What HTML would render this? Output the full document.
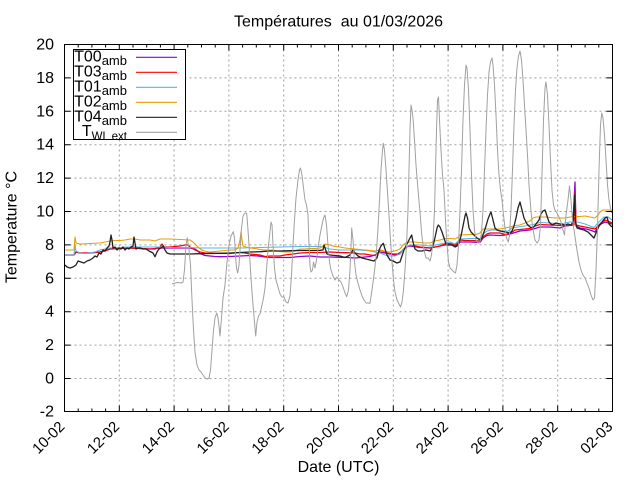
<!DOCTYPE html>
<html>
<head>
<meta charset="utf-8">
<style>
html,body{margin:0;padding:0;background:#fff;}
svg{display:block;}
text{font-family:"Liberation Sans",Arial,sans-serif;fill:#000;}
</style>
</head>
<body>
<svg width="640" height="480" viewBox="0 0 640 480" xmlns="http://www.w3.org/2000/svg">
<rect x="0" y="0" width="640" height="480" fill="#fff"/>

<!-- title -->
<text x="338.5" y="26.5" font-size="16" text-anchor="middle" style="white-space:pre">Températures  au 01/03/2026</text>

<!-- grid -->
<g stroke="#a0a0a0" stroke-width="1" stroke-dasharray="2,3" fill="none">
<line x1="119.3" y1="44.5" x2="119.3" y2="411.5"/>
<line x1="174.1" y1="44.5" x2="174.1" y2="411.5"/>
<line x1="228.9" y1="44.5" x2="228.9" y2="411.5"/>
<line x1="283.7" y1="44.5" x2="283.7" y2="411.5"/>
<line x1="338.5" y1="44.5" x2="338.5" y2="411.5"/>
<line x1="393.3" y1="44.5" x2="393.3" y2="411.5"/>
<line x1="448.1" y1="44.5" x2="448.1" y2="411.5"/>
<line x1="502.9" y1="44.5" x2="502.9" y2="411.5"/>
<line x1="557.7" y1="44.5" x2="557.7" y2="411.5"/>
<line x1="64.5" y1="77.9" x2="612.5" y2="77.9"/>
<line x1="64.5" y1="111.3" x2="612.5" y2="111.3"/>
<line x1="64.5" y1="144.7" x2="612.5" y2="144.7"/>
<line x1="64.5" y1="178.1" x2="612.5" y2="178.1"/>
<line x1="64.5" y1="211.5" x2="612.5" y2="211.5"/>
<line x1="64.5" y1="244.9" x2="612.5" y2="244.9"/>
<line x1="64.5" y1="278.3" x2="612.5" y2="278.3"/>
<line x1="64.5" y1="311.7" x2="612.5" y2="311.7"/>
<line x1="64.5" y1="345.1" x2="612.5" y2="345.1"/>
<line x1="64.5" y1="378.5" x2="612.5" y2="378.5"/>
</g>

<!-- data -->
<g fill="none" stroke-linejoin="round">
<!-- T00 purple -->
<polyline stroke="#9400d3" stroke-width="1.3" points="65,255 74,255 76,252 80,253 90,253 100,252 110,249 120,248.5 130,248 140,248.5 150,249 160,248 170,248 180,248 190,248 195,249 198,251 200,253.5 205,255.5 210,256 215,256.5 220,256.7 230,256.5 240,256 250,255.5 258,256 265,257 270,257.5 280,257.5 290,257.5 295,257 300,256.5 310,256 315,256.5 320,257 330,257 340,257.3 346,257.3 355,258 360,257.5 365,257 370,256.5 375,255 380,252 385,253 390,254 395,255 400,254 403,250 406,247 410,246 420,247.5 430,248 440,246 445,245 450,244.5 455,246 458,244 460,242 470,242 480,242.5 483,238 487,235.5 490,235 500,235.5 505,235 510,234 520,231 530,230 540,227 550,227 560,228 565,226 573,225 575,182 576,226 580,228 586,229 590,230 595,232 598,227 601,224 605,222 612,224"/>
<!-- T03 red -->
<polyline stroke="#ff0000" stroke-width="1.3" points="65,255 74,255 76,252 80,253 90,253 100,252 105,251 110,249 120,248.5 125,247.5 130,248 140,248.5 150,249 155,249 160,247 162,244 164,247 170,247 180,246 185,245 188,245 190,247 195,250 200,252 205,253 215,253.3 230,253.5 240,252.5 245,253 250,254 260,255 265,256.5 270,256 280,256 285,255 293,254 300,253 310,252.5 320,252.5 330,252 340,252.5 346,252.7 355,253 360,254 365,254 370,255 375,255.5 378,253 380,250 383,251 387,253 393,254 398,254 402,251 405,248 410,245 415,246 420,247 430,248 435,247 440,246 445,244 450,243.5 455,245 458,243 460,240 465,240.5 473,240.5 480,241 483,237 487,234 490,233 500,233 505,234.5 510,233.5 515,230 520,229.5 525,229 530,228.5 535,226 540,224.5 550,225 560,225.5 565,225.5 570,225.5 574,225 575,193 576,225 580,226 585,227 590,228 595,229 598,226 601,223 605,220 610,222 612,223"/>
<!-- T01 blue -->
<polyline stroke="#56b4e9" stroke-width="1.1" points="65,255 74,255 75,245 76,251 80,253 85,253.5 90,253 95,252 100,250 105,249 110,248 120,247.5 130,247 140,247 150,247 160,247 170,247.5 180,247.5 190,247.5 200,248 220,248 240,248 260,247.5 280,247 300,246.5 320,246.5 323,247 330,249 340,250 350,250 360,250 370,251 375,252 380,253 385,255 390,256 395,256 400,254 403,250 406,247 410,245 420,245 430,246 440,244 450,242 455,244 458,241 460,239 470,238.5 480,238.5 483,234 487,231 492,230 497,230 502,231 508,231 512,228 518,227 525,226 533,224.5 540,222.5 550,223 560,224 570,222 578,222 585,224 590,226 594,227.5 597,224 600,221 604,217 608,217 612,220"/>
<!-- T02 orange -->
<polyline stroke="#e69f00" stroke-width="1.1" points="65,250 74,250 75,237 76,243 80,244 90,243.5 100,243 105,242 110,241 115,240.5 120,240.5 125,240 130,239 135,239 140,240 145,240 150,240 155,241 160,239 170,239 180,239.5 190,240 193,242 196,245 199,248 202,250 206,251.5 210,252 215,251.5 220,251 225,250.5 230,250 235,250 238,248 240,240 241,232 242,240 243,246 246,247 250,248 255,248.5 260,249.5 265,250 270,250 275,250.5 280,251.5 285,252 290,252 295,251 300,249 305,249 310,248.5 315,248.5 320,248 323,246 325,244 330,245 335,246.5 340,247 345,248 350,248.5 360,249.5 370,250.5 375,251 380,250 385,251.5 390,252 395,251 400,249 403,245 406,243 410,242 415,242 420,242.5 425,243 430,243 435,241 440,240 445,238.5 450,238.5 455,239 458,237.5 460,235 470,234.5 476,234.5 480,233 483,229 490,229 495,229 500,229 505,228 510,227 515,225.5 520,225 525,223 530,221 533,218 536,217 545,217 556,218 565,218 573,216.5 580,216.5 585,216 590,217 595,218 598,215 600,212 603,210 610,210 612,213"/>
<!-- T04 black -->
<polyline stroke="#222" stroke-width="1.3" points="65,265 67,267 70,268 73,267 76,265 78,261 81,262 84,263 87,261 90,260 93,258 95,256 97,257 99,253 101,254 103,250 105,251 107,248 109,246 110,242 111,235 112,240 113,248 115,247 117,250 119,248 121,249 123,247 125,250 127,248 129,249 131,247 133,246 134,237 135,243 136,249 138,248 140,248 143,249 146,249 149,251 151,252 153,253 155,256.7 157,252 159,249 161,248 163.3,246 165,250 167,253 170,254 173,254 180,254 190,254 200,253.7 210,253.5 220,253.3 230,253 240,252.5 250,252 260,251.7 270,251 280,251 290,250.7 300,250.5 310,250.5 320,250.3 323,250 324,245 325,248 327,254 330,255 335,255.5 340,256 345,257.5 348,256 350,255 353,250 355,253 358,256 362,258 366,259 370,260 374,261 377,258 379,250 381,246 383.3,243.3 385,249 387,255 390,260 393,261 397,263 400,262 402,256 404,250 406,246 408,242 410,238 411.7,235 413,242 415,249 418,251 422,251 426,250 430,251 432,248 434,242 436,233 437,228 438.3,225 440,227 442,232 444,238 446,244 448,245 452,245 455,247 457,246 459,243 461,236 463,226 465,216 466,213 467.5,218 469,228 471,232 474,235 477,238 480,240 482,238 484,232 486,226 488,219 490,214 491,212 493,220 495,228 497,230 500,231 505,232 510,233 512,231 514,226 516,218 518,208 520,202 522,210 524,218 527,224 530,227 533,228 536,224 539,220 541,214 543,211 545,210 547,216 549,222 552,225 556,223 560,224 565,225 568,224 571,225 573,222 574.5,195 575.5,222 577,228 580,229 584,230 588,232 592,236 594,238 596,233 599,226 602,222 605,218 607,217 609,224 612,227"/>
<!-- T WL ext gray -->
<polyline stroke="#a0a0a0" stroke-width="1" points="172,284 175,283 178,282.5 181,283 183,282 184.5,270 186,245 187.3,237.7 189,250 190.5,265 192,300 193.5,330 195,352 197,365 199,370 201,372 203,375 205,378 207,379 209,378 210.5,370 212,350 213.5,330 215,318 216.7,313 218,318 219,326 220,336 221.5,318 223,298 225,285 227,262 229,245 231,236 233.3,231.7 234.5,238 235.5,255 236.5,268 237.7,273 239,265 240,250 241.5,228 243,216 245,213 246.7,213.3 248,230 249,245 250,262 251.5,285 253,305 254.5,322 255.7,336 257,322 258.5,316 260,314 262,305 263.5,298 265,288 266.5,270 268,250 269.5,236 271,222 272,225 273,245 274.5,268 276,280 278,287 280,294 282,297 284,297 286,302 288,303 290,296 291.5,275 293,245 294.5,220 296,198 298,180 299.5,170 300.5,168 302,175 303.5,188 305,200 306.5,205 308,215 309,245 310,266 311,272 312.5,270 313.5,262 315,268 316.5,260 318,248 320,235 322,225 323.5,218 325,215 326.5,225 328,245 329.5,262 331,270 333,276 335,280 337,277 339,280 341,282 343,287 345,293 346.7,296.7 348.5,290 350,270 351,248 351.7,228 353,240 354.5,262 356,275 358,283 360,290 362,296 364,300 366,303 368,303 370,303.3 372,290 374,275 376,258 378,228 379.5,200 381,170 382.5,150 383.3,143.3 384.5,150 386,170 387.5,192 389,215 390.5,240 392,262 393.5,280 395,292 397,300 399,304 400.5,307 402,302 403.5,290 405,270 406.5,245 408,210 409,170 410,130 411,105 412,110 413,118 414.5,140 416,165 418,190 420,212 421.5,232 423,245 424.5,252 426,258 428,258 430,261 431.5,255 433,240 434.5,210 435.5,170 436.5,130 437.5,100 438.5,97 439.5,120 441,150 442.5,175 444,190 445.5,220 447,245 448.5,262 450,268 452,270 454,272 455.5,273 457,265 458.5,245 460,210 461.5,170 463,120 464.5,85 466,65 467,68 468.5,90 470,130 471.5,175 473,210 474.5,230 476,240 478,243 480,242 481.5,232 483,210 484.5,170 486,130 487.5,95 489,72 490.5,62 492,58 493,65 494.5,85 496,115 497.5,150 499,175 500.5,190 502,200 503.5,215 505,228 506.5,238 508.3,242 509.5,235 511,210 512.5,170 514,125 515.5,90 517,68 518.5,56 520,51 521.5,60 523,80 524.5,105 526,130 527.5,155 529,185 530.5,205 532,222 533.5,232 535,240 537,243 539,240 540.5,225 542,175 543.5,120 545,88 546,82 547.5,95 549,125 550.5,160 552,190 553.5,205 555,210 557,213 559,217 561,222 563,230 564.5,235 566,215 568,200 569.5,186 571,200 572.5,220 574,230 575.5,240 577,250 579,262 581,270 583,275 585,278 587,283 589,288 591,295 593,300 594.5,298 596,270 597.5,230 599,170 600.5,125 601.7,113 603,118 604.5,135 606,160 607.5,185 609,200 610.5,208 612,212"/>
</g>

<!-- border -->
<rect x="64.5" y="44.5" width="548" height="367" fill="none" stroke="#000" stroke-width="1"/>

<!-- ticks -->
<g stroke="#000" stroke-width="1">
<path d="M64.5 44.5h6M64.5 77.9h6M64.5 111.3h6M64.5 144.7h6M64.5 178.1h6M64.5 211.5h6M64.5 244.9h6M64.5 278.3h6M64.5 311.7h6M64.5 345.1h6M64.5 378.5h6M64.5 411.5h6"/>
<path d="M612.5 44.5h-6M612.5 77.9h-6M612.5 111.3h-6M612.5 144.7h-6M612.5 178.1h-6M612.5 211.5h-6M612.5 244.9h-6M612.5 278.3h-6M612.5 311.7h-6M612.5 345.1h-6M612.5 378.5h-6M612.5 411.5h-6"/>
<path d="M119.3 411.5v-6M174.1 411.5v-6M228.9 411.5v-6M283.7 411.5v-6M338.5 411.5v-6M393.3 411.5v-6M448.1 411.5v-6M502.9 411.5v-6M557.7 411.5v-6"/>
<path d="M119.3 44.5v6M174.1 44.5v6M228.9 44.5v6M283.7 44.5v6M338.5 44.5v6M393.3 44.5v6M448.1 44.5v6M502.9 44.5v6M557.7 44.5v6"/>
<path d="M78.2 411.5v-3M91.9 411.5v-3M105.6 411.5v-3M133 411.5v-3M146.7 411.5v-3M160.4 411.5v-3M187.8 411.5v-3M201.5 411.5v-3M215.2 411.5v-3M242.6 411.5v-3M256.3 411.5v-3M270 411.5v-3M297.4 411.5v-3M311.1 411.5v-3M324.8 411.5v-3M352.2 411.5v-3M365.9 411.5v-3M379.6 411.5v-3M407 411.5v-3M420.7 411.5v-3M434.4 411.5v-3M461.8 411.5v-3M475.5 411.5v-3M489.2 411.5v-3M516.6 411.5v-3M530.3 411.5v-3M544 411.5v-3M571.4 411.5v-3M585.1 411.5v-3M598.8 411.5v-3"/>
<path d="M78.2 44.5v3M91.9 44.5v3M105.6 44.5v3M133 44.5v3M146.7 44.5v3M160.4 44.5v3M187.8 44.5v3M201.5 44.5v3M215.2 44.5v3M242.6 44.5v3M256.3 44.5v3M270 44.5v3M297.4 44.5v3M311.1 44.5v3M324.8 44.5v3M352.2 44.5v3M365.9 44.5v3M379.6 44.5v3M407 44.5v3M420.7 44.5v3M434.4 44.5v3M461.8 44.5v3M475.5 44.5v3M489.2 44.5v3M516.6 44.5v3M530.3 44.5v3M544 44.5v3M571.4 44.5v3M585.1 44.5v3M598.8 44.5v3"/>
</g>

<!-- y tick labels -->
<g font-size="16" text-anchor="end">
<text x="54" y="49.5">20</text>
<text x="54" y="82.9">18</text>
<text x="54" y="116.3">16</text>
<text x="54" y="149.7">14</text>
<text x="54" y="183.1">12</text>
<text x="54" y="216.5">10</text>
<text x="54" y="249.9">8</text>
<text x="54" y="283.3">6</text>
<text x="54" y="316.7">4</text>
<text x="54" y="350.1">2</text>
<text x="54" y="383.5">0</text>
<text x="54" y="416.5">-2</text>
</g>

<!-- x tick labels -->
<g font-size="15" text-anchor="end">
<text transform="translate(65.5,427.5) rotate(-45)">10-02</text>
<text transform="translate(120.3,427.5) rotate(-45)">12-02</text>
<text transform="translate(175.1,427.5) rotate(-45)">14-02</text>
<text transform="translate(229.9,427.5) rotate(-45)">16-02</text>
<text transform="translate(284.7,427.5) rotate(-45)">18-02</text>
<text transform="translate(339.5,427.5) rotate(-45)">20-02</text>
<text transform="translate(394.3,427.5) rotate(-45)">22-02</text>
<text transform="translate(449.1,427.5) rotate(-45)">24-02</text>
<text transform="translate(503.9,427.5) rotate(-45)">26-02</text>
<text transform="translate(558.7,427.5) rotate(-45)">28-02</text>
<text transform="translate(613.5,427.5) rotate(-45)">02-03</text>
</g>

<!-- axis labels -->
<text x="338.5" y="472" font-size="16" text-anchor="middle">Date (UTC)</text>
<text transform="translate(16.5,227) rotate(-90)" font-size="16" text-anchor="middle">Temperature °C</text>

<!-- legend -->
<rect x="73.5" y="49.5" width="112" height="90" fill="#fff" stroke="#000" stroke-width="1"/>
<g font-size="16" text-anchor="end">
<text x="127" y="61.5">T00<tspan dy="3.5" font-size="13">amb</tspan></text>
<text x="127" y="76.5">T03<tspan dy="3.5" font-size="13">amb</tspan></text>
<text x="127" y="91.5">T01<tspan dy="3.5" font-size="13">amb</tspan></text>
<text x="127" y="106.5">T02<tspan dy="3.5" font-size="13">amb</tspan></text>
<text x="127" y="121.5">T04<tspan dy="3.5" font-size="13">amb</tspan></text>
<text x="127" y="136" style="white-space:pre">T<tspan dy="4" font-size="11.5">WL ext</tspan></text>
</g>
<g stroke-width="1.2">
<line x1="136" y1="57.3" x2="177" y2="57.3" stroke="#9400d3"/>
<line x1="136" y1="72.3" x2="177" y2="72.3" stroke="#ff0000"/>
<line x1="136" y1="87.3" x2="177" y2="87.3" stroke="#56b4e9"/>
<line x1="136" y1="102.3" x2="177" y2="102.3" stroke="#e69f00"/>
<line x1="136" y1="117.3" x2="177" y2="117.3" stroke="#222"/>
<line x1="136" y1="132.3" x2="177" y2="132.3" stroke="#a0a0a0"/>
</g>
</svg>
</body>
</html>
